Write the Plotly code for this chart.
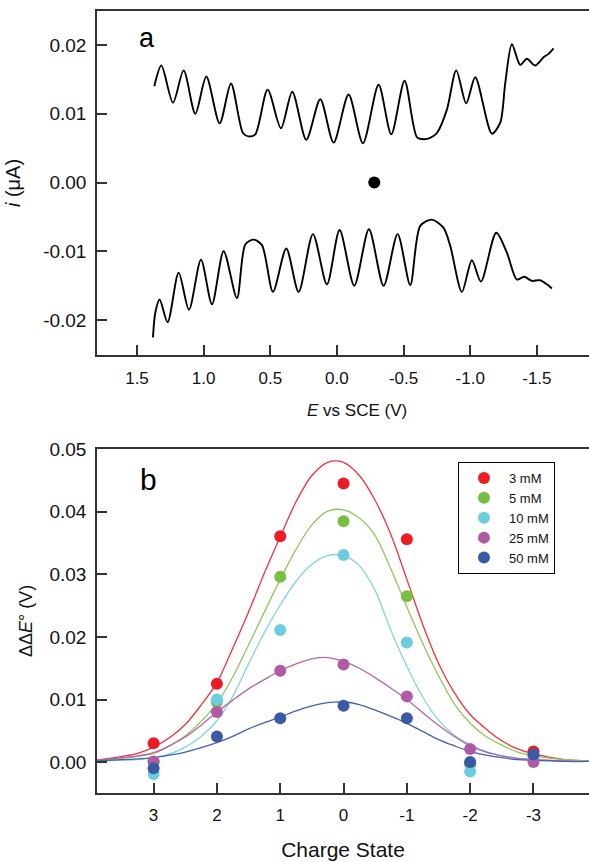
import plotly.graph_objects as go

# ---------------- Panel a : cyclic voltammogram ----------------
E_ox = [1.37, 1.317, 1.23, 1.15, 1.0625, 0.98, 0.88, 0.795, 0.705, 0.6625, 0.6125, 0.52, 0.42, 0.335,
        0.23, 0.125, 0.025, -0.0875, -0.195, -0.3125, -0.4075, -0.5075, -0.6, -0.65, -0.7, -0.75,
        -0.825, -0.895, -0.97, -1.0375, -1.1625, -1.225, -1.2625, -1.3125, -1.375, -1.425, -1.4875,
        -1.55, -1.5875, -1.625]
i_ox = [0.0140, 0.0170, 0.0116, 0.0163, 0.0100, 0.0154, 0.0086, 0.0144, 0.0072, 0.0067, 0.0070, 0.0135,
        0.0079, 0.0132, 0.0062, 0.0121, 0.0058, 0.0128, 0.0057, 0.0142, 0.0070, 0.0148, 0.0066, 0.0063,
        0.0065, 0.0072, 0.0106, 0.0163, 0.0115, 0.0153, 0.0071, 0.0087, 0.0144, 0.0201, 0.0171, 0.0180,
        0.0170, 0.0182, 0.0187, 0.0195]

E_red = [1.38, 1.3625, 1.33, 1.27, 1.1875, 1.11, 1.02, 0.9375, 0.85, 0.75, 0.6875, 0.625, 0.5625, 0.48,
         0.38, 0.2875, 0.18, 0.075, -0.02, -0.13, -0.24, -0.35, -0.455, -0.55, -0.625, -0.7125, -0.8,
         -0.85, -0.9375, -1.0125, -1.08, -1.195, -1.275, -1.35, -1.405, -1.4625, -1.525, -1.575, -1.6125]
i_red = [-0.0225, -0.0189, -0.0170, -0.0203, -0.0131, -0.0185, -0.0112, -0.0177, -0.0100, -0.0168, -0.0090,
         -0.0083, -0.0091, -0.0159, -0.0096, -0.0159, -0.0075, -0.0148, -0.0069, -0.0150, -0.0068, -0.0150,
         -0.0075, -0.0149, -0.0063, -0.0054, -0.0066, -0.0092, -0.0159, -0.0113, -0.0144, -0.0073, -0.0102,
         -0.0141, -0.0137, -0.0143, -0.0142, -0.0148, -0.0154]

dot_E = [-0.28]
dot_i = [0.0]

a_xtickvals = [1.5, 1.0, 0.5, 0.0, -0.5, -1.0, -1.5]
a_xticktext = ["1.5", "1.0", "0.5", "0.0", "-0.5", "-1.0", "-1.5"]
a_ytickvals = [0.02, 0.01, 0.0, -0.01, -0.02]
a_yticktext = ["0.02", "0.01", "0.00", "-0.01", "-0.02"]

# ---------------- Panel b : ΔΔE° vs charge state ----------------
charge = [3, 2, 1, 0, -1, -2, -3]
series_names = ["3 mM", "5 mM", "10 mM", "25 mM", "50 mM"]
pts_3mM = [0.0030, 0.0125, 0.0361, 0.0445, 0.0356, -0.0002, 0.0017]
pts_5mM = [0.0000, 0.0096, 0.0296, 0.0385, 0.0265, -0.0003, 0.0008]
pts_10mM = [-0.0019, 0.0100, 0.0211, 0.0331, 0.0191, -0.0015, 0.0005]
pts_25mM = [0.0001, 0.0080, 0.0146, 0.0156, 0.0105, 0.0021, 0.0000]
pts_50mM = [-0.0010, 0.0041, 0.0070, 0.0090, 0.0070, 0.0000, 0.0012]

fit_charge = [3.9, 3.5, 3.25, 3.0, 2.75, 2.5, 2.25, 2.0, 1.75, 1.5, 1.25, 1.0, 0.75, 0.5, 0.25, 0.0,
              -0.25, -0.5, -0.75, -1.0, -1.25, -1.5, -1.75, -2.0, -2.25, -2.5, -2.75, -3.0, -3.5, -3.9]
fit_3mM = [0.0003, 0.0009, 0.0014, 0.0024, 0.0039, 0.0060, 0.0091, 0.0127, 0.0182, 0.0240, 0.0302, 0.0360,
           0.0416, 0.0458, 0.0479, 0.0479, 0.0458, 0.0418, 0.0363, 0.0292, 0.0220, 0.0158, 0.0111, 0.0076,
           0.0053, 0.0034, 0.0021, 0.0013, 0.0004, 0.0002]
fit_5mM = [0.0002, 0.0006, 0.0009, 0.0014, 0.0026, 0.0042, 0.0065, 0.0094, 0.0136, 0.0187, 0.0240, 0.0292,
           0.0340, 0.0379, 0.0401, 0.0403, 0.0390, 0.0362, 0.0308, 0.0248, 0.0190, 0.0138, 0.0093, 0.0062,
           0.0041, 0.0027, 0.0016, 0.0010, 0.0004, 0.0002]
fit_10mM = [0.0001, 0.0003, 0.0004, 0.0007, 0.0013, 0.0024, 0.0041, 0.0066, 0.0105, 0.0157, 0.0207, 0.0251,
            0.0289, 0.0316, 0.0330, 0.0330, 0.0314, 0.0274, 0.0210, 0.0153, 0.0104, 0.0067, 0.0043, 0.0028,
            0.0017, 0.0010, 0.0006, 0.0004, 0.0002, 0.0001]
fit_25mM = [0.0003, 0.0007, 0.0010, 0.0015, 0.0026, 0.0040, 0.0059, 0.0080, 0.0099, 0.0117, 0.0132, 0.0146,
            0.0157, 0.0165, 0.0167, 0.0161, 0.0150, 0.0135, 0.0118, 0.0100, 0.0079, 0.0059, 0.0041, 0.0026,
            0.0016, 0.0010, 0.0006, 0.0004, 0.0002, 0.0001]
fit_50mM = [0.0002, 0.0004, 0.0005, 0.0007, 0.0011, 0.0016, 0.0023, 0.0031, 0.0041, 0.0053, 0.0063, 0.0072,
            0.0082, 0.0090, 0.0095, 0.0096, 0.0092, 0.0083, 0.0073, 0.0062, 0.0049, 0.0036, 0.0026, 0.0017,
            0.0011, 0.0007, 0.0004, 0.0003, 0.0001, 0.0001]

b_xtickvals = [3, 2, 1, 0, -1, -2, -3]
b_xticktext = ["3", "2", "1", "0", "-1", "-2", "-3"]
b_ytickvals = [0.0, 0.01, 0.02, 0.03, 0.04, 0.05]
b_yticktext = ["0.00", "0.01", "0.02", "0.03", "0.04", "0.05"]

colors = ["#ED1C24", "#77BF43", "#6CCDE0", "#B05AA6", "#3A5AA8"]
line_colors = ["#F0323A", "#8CC85A", "#7FD3E6", "#B466AC", "#4460B0"]

FONT = "Liberation Sans, Arial, sans-serif"
AX = "#333333"

fig = go.Figure()

cv_line = dict(color="black", width=1.9, shape="spline", smoothing=0.8)
fig.add_trace(go.Scatter(x=E_ox, y=i_ox, mode="lines", line=cv_line,
                         xaxis="x", yaxis="y", showlegend=False, hoverinfo="skip"))
fig.add_trace(go.Scatter(x=E_red, y=i_red, mode="lines", line=cv_line,
                         xaxis="x", yaxis="y", showlegend=False, hoverinfo="skip"))
fig.add_trace(go.Scatter(x=dot_E, y=dot_i, mode="markers", marker=dict(color="black", size=12),
                         xaxis="x", yaxis="y", showlegend=False))

fits = [fit_3mM, fit_5mM, fit_10mM, fit_25mM, fit_50mM]
pts = [pts_3mM, pts_5mM, pts_10mM, pts_25mM, pts_50mM]
for name, f, c in zip(series_names, fits, line_colors):
    fig.add_trace(go.Scatter(x=fit_charge, y=f, mode="lines", line=dict(color=c, width=1.3, shape="spline", smoothing=0.9),
                             xaxis="x2", yaxis="y2", showlegend=False, hoverinfo="skip"))
for name, p, c in zip(series_names, pts, colors):
    fig.add_trace(go.Scatter(x=charge, y=p, mode="markers", name=name, marker=dict(color=c, size=12, line=dict(width=0)),
                             xaxis="x2", yaxis="y2"))

common = dict(showline=True, linecolor=AX, linewidth=1.5, ticks="inside", ticklen=10, tickwidth=1.5,
              tickcolor=AX, showgrid=False, zeroline=False)
xfont = dict(family=FONT, size=17, color="#111")
yfont = dict(family=FONT, size=19, color="#111")

fig.update_layout(
    width=589, height=862,
    margin=dict(l=97, r=0, t=11, b=69),
    paper_bgcolor="white", plot_bgcolor="white",
    font=dict(family=FONT, color="#111"),
    xaxis=dict(domain=[0, 1], anchor="y", range=[1.8, -1.891], mirror=True, tickmode="array",
               tickvals=a_xtickvals, ticktext=a_xticktext, ticklabelstandoff=7, tickfont=xfont, **common),
    yaxis=dict(domain=[0.5601, 1], anchor="x", range=[-0.02507, 0.02493], tickmode="array",
               tickvals=a_ytickvals, ticktext=a_yticktext, ticklabelstandoff=5, tickfont=yfont,
               title=dict(text="<i>i</i> (μA)", font=dict(family=FONT, size=20), standoff=17), **common),
    xaxis2=dict(domain=[0, 1], anchor="y2", range=[3.894, -3.877], mirror=True, tickmode="array",
                tickvals=b_xtickvals, ticktext=b_xticktext, ticklabelstandoff=6, tickfont=xfont,
                title=dict(text="Charge State", font=dict(family=FONT, size=21), standoff=18), **common),
    yaxis2=dict(domain=[0, 0.4399], anchor="x2", range=[-0.00494, 0.05003], tickmode="array",
                tickvals=b_ytickvals, ticktext=b_yticktext, ticklabelstandoff=5, tickfont=yfont,
                title=dict(text="ΔΔ<i>E</i>° (V)", font=dict(family=FONT, size=18), standoff=12), **common),
    legend=dict(x=0.7337, y=0.4233, xanchor="left", yanchor="top", bgcolor="white", itemwidth=40,
                bordercolor="black", borderwidth=1, font=dict(family=FONT, size=13, color="#111")),
    annotations=[
        dict(text="<i>E</i> vs SCE (V)", x=0.5285, y=-0.16, xref="x domain", yref="y domain",
             xanchor="center", yanchor="middle", showarrow=False, font=dict(family=FONT, size=17, color="#111")),
        dict(text="a", x=0.1016, y=0.9215, xref="x domain", yref="y domain", showarrow=False,
             xanchor="center", yanchor="middle", font=dict(family=FONT, size=27, color="black")),
        dict(text="b", x=0.1037, y=0.91, xref="x2 domain", yref="y2 domain", showarrow=False,
             xanchor="center", yanchor="middle", font=dict(family=FONT, size=30, color="black")),
    ],
)

fig.write_html("out.html", config={"displayModeBar": False},
               post_script="document.body.style.margin='0px';")
